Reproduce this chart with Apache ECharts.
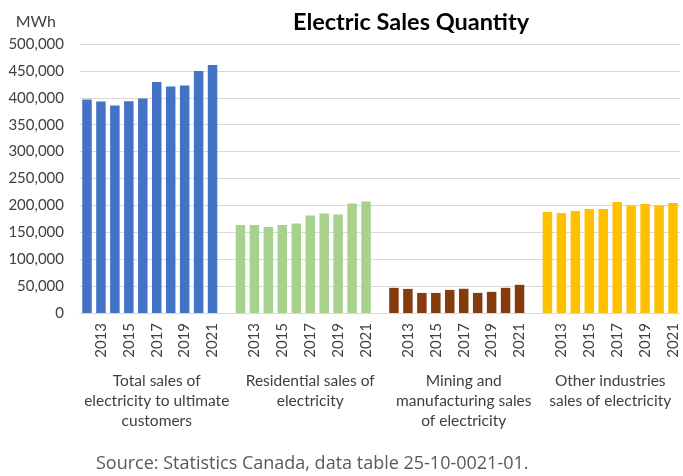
<!DOCTYPE html>
<html>
<head>
<meta charset="utf-8">
<script src="https://cdn.jsdelivr.net/npm/echarts@6/dist/echarts.min.js"></script>
<style>
  html, body { margin: 0; padding: 0; background: #fff; }
  #chart { width: 683px; height: 476px; }
</style>
</head>
<body>
<div id="chart"></div>
<script>
// years shown in every group
const years = ['2012', '2013', '2014', '2015', '2016', '2017', '2018', '2019', '2020', '2021']
const groupNames = [
  'Total sales of\nelectricity to ultimate\ncustomers',
  'Residential sales of\nelectricity',
  'Mining and\nmanufacturing sales\nof electricity',
  'Other industries\nsales of electricity'
]
const groupColors = ['#4472C4', '#A9D18E', '#843C0C', '#FFC000']
// MWh
const totalSales = [396800, 393000, 385600, 393600, 398700, 429500, 420800, 422700, 450000, 461000]
const residentialSales = [163800, 163800, 160000, 163800, 166200, 181100, 184900, 183000, 203500, 207300]
const miningSales = [46800, 44800, 37300, 37300, 42900, 45000, 37400, 39300, 46800, 52400]
const otherSales = [187600, 185700, 189400, 193100, 193100, 206100, 200500, 202400, 200500, 204300]

const groupValues = [totalSales, residentialSales, miningSales, otherSales]

// one category per year, one empty category between groups
const categories = []
const barData = []
groupValues.forEach(function (vals, g) {
  if (g > 0) {
    categories.push('')
    barData.push('-')
  }
  vals.forEach(function (v, i) {
    categories.push(years[i])
    barData.push({ value: v, itemStyle: { color: groupColors[g] } })
  })
})

// second axis: half-category points, group name centred over its group
// (including the empty category that follows it, like Excel does)
const halfPoints = new Array(categories.length * 2 + 1).fill('')
groupNames.forEach(function (name, g) {
  const start = g * (years.length + 1) * 2
  const span = g < groupNames.length - 1 ? (years.length + 1) * 2 : years.length * 2
  halfPoints[start + span / 2] = name
})

const chart = echarts.init(document.getElementById('chart'))
chart.setOption({
  animation: false,
  textStyle: { fontFamily: 'Lato' },
  title: [{
    text: 'Electric Sales Quantity',
    left: 406,
    top: 5,
    textAlign: 'center',
    textStyle: { fontFamily: 'Lato', fontWeight: 'bold', fontSize: 23.5, color: '#000' }
  }, {
    text: 'Source: Statistics Canada, data table 25-10-0021-01.',
    left: 91,
    top: 450,
    textStyle: { fontFamily: 'Open Sans', fontWeight: 'normal', fontSize: 18, color: '#595959' }
  }],
  grid: {
    left: 80,
    right: 0,
    top: 44,
    bottom: 163
  },
  xAxis: [{
    type: 'category',
    data: categories,
    axisLine: { lineStyle: { color: '#D9D9D9', width: 1 } },
    axisTick: { show: false },
    axisLabel: {
      interval: 0,
      rotate: 90,
      margin: 10,
      fontSize: 15,
      color: '#404040',
      formatter: function (v) {
        return v !== '' && Number(v) % 2 === 1 ? v : ''
      }
    }
  }, {
    type: 'category',
    data: halfPoints,
    boundaryGap: false,
    position: 'bottom',
    offset: 50,
    axisLine: { show: false },
    axisTick: { show: false },
    splitLine: { show: false },
    axisLabel: {
      interval: 0,
      margin: 8,
      fontSize: 15.5,
      lineHeight: 20,
      color: '#404040',
      align: 'center'
    }
  }],
  yAxis: {
    type: 'value',
    min: 0,
    max: 500000,
    interval: 50000,
    name: 'MWh',
    nameGap: 14,
    nameTextStyle: { fontSize: 16, color: '#404040', align: 'right', padding: [0, 24, 0, 0] },
    axisLine: { show: false },
    axisTick: { show: false },
    axisLabel: {
      margin: 16,
      fontSize: 15,
      color: '#404040',
      formatter: function (v) { return v.toLocaleString('en-US') }
    },
    splitLine: { lineStyle: { color: '#D9D9D9', width: 1 } }
  },
  series: [{
    type: 'bar',
    xAxisIndex: 0,
    barWidth: '68%',
    data: barData
  }]
})
</script>
</body>
</html>
